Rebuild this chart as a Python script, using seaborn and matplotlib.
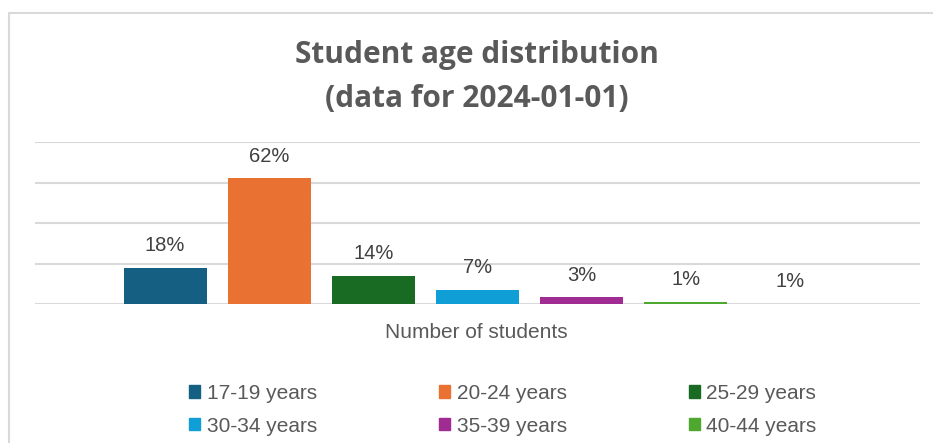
import matplotlib
matplotlib.use("Agg")
import matplotlib.pyplot as plt
import matplotlib.patches as mpatches
import seaborn as sns
import pandas as pd

# age groups and share of students (%)
age_groups = ['17-19 years', '20-24 years', '25-29 years', '30-34 years',
              '35-39 years', '40-44 years', '45+ years']
share = [18, 62, 14, 7, 3.3, 1, 0.1]
share_labels = ['18%', '62%', '14%', '7%', '3%', '1%', '1%']
colors = ['#156082', '#E97132', '#196B24', '#0F9ED5', '#A02B93', '#4EA72E', '#0D3A4E']

df = pd.DataFrame({'group': age_groups, 'share': share})

sns.set_theme(style='white')
plt.rcParams['font.family'] = ['Liberation Sans', 'DejaVu Sans']

fig = plt.figure(figsize=(9.33, 4.43), dpi=100)
ax = fig.add_axes([35 / 933, 1 - 304 / 443, 885 / 933, 162 / 443])
ax.set_axisbelow(True)

sns.barplot(data=df, x='group', y='share', hue='group', palette=colors,
            width=0.8, legend=False, ax=ax, zorder=3, saturation=1, linewidth=0)

for i, (v, lab) in enumerate(zip(share, share_labels)):
    ax.annotate(lab, (i, v), xytext=(0, 16), textcoords='offset points',
                ha='center', va='center', fontsize=14.5, color='#404040')

ax.set_xlim(-1.25, 7.25)
ax.set_ylim(0, 80)
ax.set_yticks([0, 20, 40, 60, 80])
ax.set_yticklabels([])
ax.set_xticks([])
ax.set_xlabel('')
ax.set_ylabel('')
ax.yaxis.grid(True, color='#D9D9D9', lw=1.5, zorder=1)
for s in ax.spines.values():
    s.set_visible(False)

# chart frame
fig.patches.append(mpatches.Rectangle((8.5 / 933, -0.5), 2, 1.5 - 12.5 / 443,
                                      transform=fig.transFigure, fill=False,
                                      ec='#D9D9D9', lw=1.5))

fig.text(477 / 933, 1 - 55 / 443, 'Student age distribution', ha='center', va='center',
         fontsize=21.5, fontweight='bold', color='#595959', family='Open Sans')
fig.text(477 / 933, 1 - 99 / 443, '(data for 2024-01-01)', ha='center', va='center',
         fontsize=21.5, fontweight='bold', color='#595959', family='Open Sans')

fig.text(476.5 / 933, 1 - 332 / 443, 'Number of students', ha='center', va='center',
         fontsize=15, color='#595959')

handles = [mpatches.Patch(color=c, label=g) for c, g in zip(colors[:6], age_groups[:6])]
order = [0, 3, 1, 4, 2, 5]
fig.legend([handles[i] for i in order], [age_groups[i] for i in order],
           ncol=3, loc='upper left', bbox_to_anchor=(189 / 933, 1 - 384 / 443),
           frameon=False, fontsize=15, labelcolor='#595959',
           handlelength=0.55, handleheight=0.55, handletextpad=0.3,
           columnspacing=5.85, labelspacing=0.65, borderpad=0, borderaxespad=0)

fig.savefig('out.png', dpi=100)
